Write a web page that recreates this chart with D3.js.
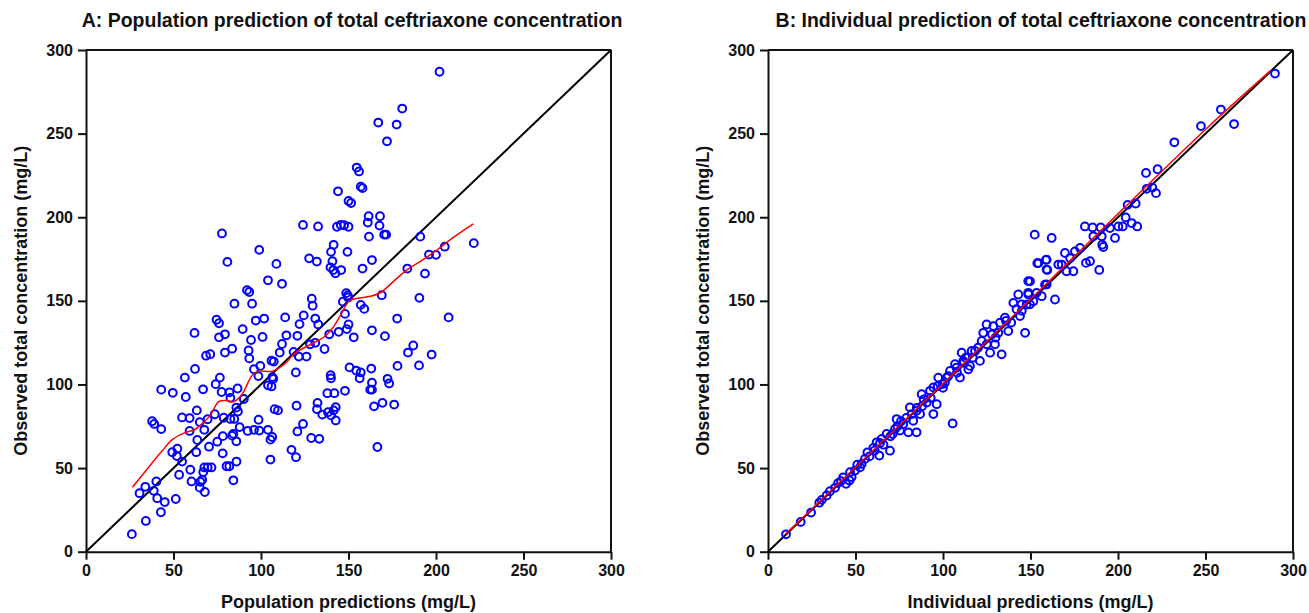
<!DOCTYPE html>
<html>
<head>
<meta charset="utf-8">
<script src="https://cdn.jsdelivr.net/npm/d3@7"></script>
<style>
  body { margin: 0; background: #fff; }
  text { font-family: "Liberation Sans", Arial, sans-serif; font-weight: bold; fill: #111; }
</style>
</head>
<body>
<div id="chart"></div>
<script>
////////////////////////////////////////////////////////////////////////
// Data (mg/L)

let ticks = [0, 50, 100, 150, 200, 250, 300];

// panel A: population predictions vs observed
let aPred = [202, 180.7, 167, 177.5, 172, 154.7, 156, 157, 158, 144, 150, 151.5, 161.5, 168, 161, 167.7,
  124, 132.6, 143.4, 145.6, 147.5, 150, 170.4, 171.5, 77.7, 191, 161.7, 141.5, 99, 140, 149.4, 221.6,
  205, 196, 200, 80.8, 108.8, 127.5, 131.9, 140.8, 163.4, 139.7, 141.3, 142.5, 145.8, 158, 183.6, 193.7,
  104, 112, 92, 93.3, 84.8, 94.9, 129, 129.5, 148.7, 149.6, 169, 190.5, 146.8, 149.8, 157, 159, 148,
  74.6, 76, 89.5, 97, 101.8, 113.8, 124.4, 131, 132.7, 122, 150, 149, 139, 144.4, 163.4, 207.2, 177.8,
  62, 79.4, 76, 94.3, 100.9, 114.5, 120.8, 153, 170.8, 83.5, 79.4, 92.9, 93.3, 112, 110.7, 131, 128,
  136.3, 118.6, 121.6, 126, 68.6, 71, 187, 184, 190.3, 197.5, 178, 62.3, 96, 99.6, 106, 107.3, 119.9,
  98.5, 106.5, 107, 104, 106, 76.5, 56.5, 66.9, 74.1, 77.5, 82, 86.6, 82.5, 90.2, 49.6, 43, 57, 150.6,
  154.4, 157, 156.4, 163, 172.3, 173.2, 139.8, 140, 162.4, 163.4, 163.4, 148, 137.9, 141.9, 132.3, 132,
  135, 138.3, 140, 141.5, 142.7, 142.7, 164.6, 169.4, 176.1, 107.8, 109.7, 120.3, 124, 120.8, 128.7,
  133.3, 117.4, 120, 166.5, 105.4, 104, 105.4, 106.4, 98.6, 96, 92.4, 99, 87.8, 84.2, 83.5, 82.5, 78.7,
  84.7, 85.9, 86.8, 85.9, 78.1, 80.3, 81.9, 86, 84.2, 78.2, 75, 70.3, 67.6, 69.5, 73.6, 65, 63.3, 59.2,
  54.9, 59.2, 63.6, 63, 52.2, 49.3, 51.9, 54.9, 53.2, 59.6, 60.3, 65.4, 66.4, 65, 67.9, 67.6, 69.5, 71.7,
  67, 40.2, 38.7, 30.6, 33.9, 37.8, 39, 43, 40.7, 45, 51.3, 34.2, 42.8, 26.2];
let aObs = [287, 265, 256.6, 255.4, 245.4, 229.7, 227.4, 218.3, 217.4, 215.5, 209.7, 208.5, 200.6, 200.6, 196.8, 195,
  195.4, 194.5, 194.3, 195.4, 195.2, 194.3, 189.6, 189.6, 190.3, 188.4, 188.4, 183.5, 180.5, 179.3, 179.3, 184.5,
  182.4, 177.7, 177.5, 173.3, 172.1, 175.4, 173.5, 173.7, 174.4, 170, 168.4, 166.5, 168.4, 169.3, 169.3, 166.3,
  162.3, 160.2, 156.4, 155.3, 148.3, 148.3, 151.3, 147.1, 154.6, 153.2, 153.4, 151.8, 149.5, 152, 147.6, 145.2, 142.2,
  138.7, 136.6, 133.1, 138.2, 139.4, 140.1, 141.3, 139.4, 135.9, 136.1, 135.9, 133.1, 130, 131.5, 132.4, 140.1, 139.4,
  130.8, 130, 128.2, 126.6, 128.4, 129.4, 129.1, 128.2, 128.9, 121.4, 119.1, 120.3, 115.6, 124.2, 119.1, 124.9, 124,
  121.2, 119.5, 116.7, 116.7, 117.2, 118.1, 123.3, 119.1, 111.4, 117.9, 111.1, 109.3, 109.1, 111.1, 114.2, 113.7, 107.2,
  105, 104.4, 103.4, 99.5, 98.8, 104.1, 104.1, 97.1, 100.2, 95.5, 95.3, 97.6, 92, 91.3, 95, 96.9, 92.5, 110.2,
  108.3, 107.2, 103.7, 109.5, 103.4, 100.6, 105.5, 103.7, 96.9, 96.9, 101.1, 96.2, 94.8, 94.8, 89, 85.2,
  82, 83.4, 81.5, 84.5, 86.4, 78.5, 86.9, 89, 88, 85.2, 84.5, 87.3, 76.4, 71.9, 68,
  67.5, 60.9, 56.5, 62.6, 55.1, 72.9, 67, 68.6, 78.9, 72.9, 72.2, 72.4, 74.5, 70.5, 69.4, 79.4, 80.1,
  79.4, 86.2, 83.8, 66, 58.8, 51.1, 51.1, 53.9, 42.7, 69.1, 65.8, 62.8, 72.9, 79.2, 82.2, 77.5, 84.5, 79.9,
  80.3, 72.2, 66.8, 59.5, 61.6, 59.5, 57.2, 53.9, 46, 49, 42, 41.8, 43, 38.3, 35.7, 50.4, 50.4, 50.4,
  47.6, 42, 36.4, 35, 38.8, 78, 76.4, 73.3, 32, 29.7, 31.5, 18.4, 23.6, 10.5];

// panel A smoother (red)
let aSmoothX = [26.5, 35, 43.3, 49.3, 56.5, 62, 66.2, 71, 75.8, 80.6, 84.2, 89, 95, 98.6, 106.6, 114.3,
  119, 128.7, 136, 140.8, 145.6, 150.4, 155.2, 162.4, 168.4, 176.8, 184, 191.3, 200.9, 210.5, 221.3];
let aSmoothY = [38.5, 49.5, 60, 67, 71.2, 72.9, 76.4, 81.5, 89.7, 90.4, 89.7, 93.9, 105.5, 107.9, 107.9, 113,
  118.4, 124.2, 128.4, 133.6, 141.7, 149.9, 151.5, 152.7, 155, 162.7, 169, 173.7, 180.7, 188.4, 196.1];

// panel B: individual predictions vs observed
let bPred = [10.3, 18.7, 24.6, 29.3, 30.7, 33.5, 35.4, 38.3, 41.7, 44.6, 46.5, 47.8, 46.9, 49.7, 52.6, 53.5,
  55.4, 56.8, 60.2, 62.1, 63.6, 65, 67.8, 69.7, 71.2, 72.6, 73.5, 75.4, 77.3, 80.2, 81.1, 82.1, 84.9, 83,
  84.9, 86.9, 87.8, 90.7, 92.6, 94.5, 94.5, 96.4, 97.3, 99.8, 101.1, 102.1, 104, 105.5, 106.9, 107.8, 109.7,
  110.7, 111.6, 114.5, 115.4, 116.4, 118.3, 121.1, 122.1, 123, 124.9, 126.9, 128.8, 129.7, 131.6, 132.6,
  133.5, 135.4, 137.3, 140.2, 143, 144, 146.9, 147.8, 148.8, 149.7, 151.6, 153.5, 154.5, 156.4, 158.3,
  159.2, 159.2, 164, 165.9, 289.7, 258.8, 247.4, 266.3, 232.2, 216, 222.6, 216.4, 219.6, 221.7, 205.5,
  210.1, 181.1, 185.5, 190.1, 195.4, 200.2, 202.7, 204.4, 207.8, 211, 185.9, 190.7, 191, 191.6, 198.3,
  152.4, 162.1, 169.7, 175.4, 178.3, 172.6, 167.8, 158.8, 153.9, 159.6, 170.6, 174.5, 181.7, 184, 189.3,
  148.7, 159.2, 148.7, 144.9, 149.7, 40, 43, 51, 58, 61, 64, 66, 70, 74, 76, 79, 85, 88, 89, 93, 97, 100,
  103, 108, 112, 113, 117, 120, 125, 128, 130, 136, 139, 142, 145];
let bObs = [10.4, 17.8, 23.4, 29.3, 31, 33.6, 36.2, 38.2, 42.2, 40.6, 42.6, 44.6, 47.5, 48.5, 50.5, 52.5,
  55.5, 59.4, 62, 65.4, 57.5, 67.4, 70.4, 60.4, 70.4, 73.4, 79.3, 72.4, 76.3, 71.4, 86.3, 82.3, 71.4, 78.3,
  84.3, 82.3, 94.2, 89.2, 96.2, 98.2, 82.3, 88.2, 104.1, 100.2, 101.2, 104.1, 108.1, 76.7, 112.1, 110.1, 104.1,
  119, 114.1, 109.1, 111.1, 120, 120, 114.1, 126, 130.9, 135.9, 119, 134.9, 124, 130.9, 136.9,
  118, 139.9, 131.9, 148.8, 153.8, 140.9, 130.9, 147.8, 153.8, 161.7, 149.8, 154.8, 172.6, 152.8, 159.7,
  174.6, 168.7, 150.8, 171.7, 285.9, 264.4, 254.5, 255.7, 244.8, 226.5, 228.7, 217, 217.8, 214.4, 207.4,
  208.2, 194.5, 193.9, 193.9, 193.5, 194.5, 194.5, 199.9, 196.5, 194.5, 188.6, 188.6, 183.6, 182.2, 187.6,
  189.6, 187.6, 178.6, 179.6, 181.6, 175.6, 171.7, 174.5, 172.5, 168.5, 167.7, 167.7, 172.7, 173.7, 168.5,
  161.8, 159.8, 154.8, 147.9, 147.9, 41, 44.5, 52, 57, 60.5, 65, 64, 69, 75, 78, 80, 86, 87, 91, 92, 99, 98,
  105, 107, 113, 116, 116, 122, 124, 130, 128, 138, 137, 145, 144];

// panel B smoother (red)
let bSmoothX = [10, 50, 100, 150, 200, 250, 287];
let bSmoothY = [10.5, 50.5, 100.5, 151, 202, 252.5, 287.5];

////////////////////////////////////////////////////////////////////////

let width = 1309;
let height = 613;

let svg = d3.select("#chart")
  .append("svg")
  .attr("width", width).attr("height", height);

svg.append("rect").attr("width", width).attr("height", height).attr("fill", "#fff");

// draws one obs-vs-pred panel; left/right are the pixel edges of the plot box
function makePanel(left, right, title, titleX, xName, predArr, obsArr, smX, smY)
{
  let top = 50;
  let bottom = 551.7;

  let xScale = d3.scaleLinear().domain([0, 300]).range([left, right]);
  let yScale = d3.scaleLinear().domain([0, 300]).range([bottom, top]);

  let g = svg.append("g");

  // box (top and right sides)
  g.append("line")
    .attr("x1", left).attr("x2", right).attr("y1", top).attr("y2", top)
    .attr("stroke", "#111").attr("stroke-width", 2);
  g.append("line")
    .attr("x1", right).attr("x2", right).attr("y1", top).attr("y2", bottom)
    .attr("stroke", "#111").attr("stroke-width", 2);

  let xAxis = d3.axisBottom(xScale).tickValues(ticks).tickSize(8).tickSizeOuter(0);
  let yAxis = d3.axisLeft(yScale).tickValues(ticks).tickSize(8).tickSizeOuter(0);

  let gx = g.append("g").attr("transform", "translate(0," + bottom + ")").call(xAxis);
  let gy = g.append("g").attr("transform", "translate(" + left + ",0)").call(yAxis);

  [gx, gy].forEach(function(ax){
    ax.select(".domain").attr("stroke", "#111").attr("stroke-width", 2);
    ax.selectAll(".tick line").attr("stroke", "#111").attr("stroke-width", 2);
    ax.selectAll(".tick text")
      .attr("fill", "#111")
      .style("font-size", "16px")
      .style("font-family", "'Liberation Sans', Arial, sans-serif")
      .style("font-weight", "bold");
  });
  gx.selectAll(".tick text").attr("y", 13);
  gy.selectAll(".tick text").attr("x", -13);

  // identity line
  g.append("line")
    .attr("x1", xScale(0)).attr("y1", yScale(0))
    .attr("x2", xScale(300)).attr("y2", yScale(300))
    .attr("stroke", "#000").attr("stroke-width", 2);

  // observations
  g.append("g")
    .selectAll("circle")
    .data(predArr.map(function(p, i){ return {pred: p, obs: obsArr[i]}; }))
    .enter()
    .append("circle")
    .attr("cx", function(d){ return xScale(d.pred); })
    .attr("cy", function(d){ return yScale(d.obs); })
    .attr("r", 3.9)
    .attr("fill", "none")
    .attr("stroke", "#0000ff")
    .attr("stroke-width", 2);

  // smoother
  let line = d3.line()
    .x(function(d){ return xScale(d[0]); })
    .y(function(d){ return yScale(d[1]); })
    .curve(d3.curveCatmullRom);
  g.append("path")
    .datum(smX.map(function(x, i){ return [x, smY[i]]; }))
    .attr("d", line)
    .attr("fill", "none")
    .attr("stroke", "#ff0000")
    .attr("stroke-width", 1.5);

  // labels
  g.append("text")
    .attr("x", titleX).attr("y", 26.5)
    .attr("text-anchor", "middle")
    .style("font-size", "19.5px")
    .text(title);

  g.append("text")
    .attr("x", (left + right) / 2).attr("y", 608)
    .attr("text-anchor", "middle")
    .style("font-size", "18px")
    .text(xName);

  g.append("text")
    .attr("transform", "translate(" + (left - 59) + "," + ((top + bottom) / 2) + ") rotate(-90)")
    .attr("text-anchor", "middle")
    .style("font-size", "18px")
    .text("Observed total concentration (mg/L)");
}

makePanel(86, 611, "A: Population prediction of total ceftriaxone concentration", 352,
  "Population predictions (mg/L)", aPred, aObs, aSmoothX, aSmoothY);
makePanel(768, 1293, "B: Individual prediction of total ceftriaxone concentration", 1041,
  "Individual predictions (mg/L)", bPred, bObs, bSmoothX, bSmoothY);
</script>
</body>
</html>
